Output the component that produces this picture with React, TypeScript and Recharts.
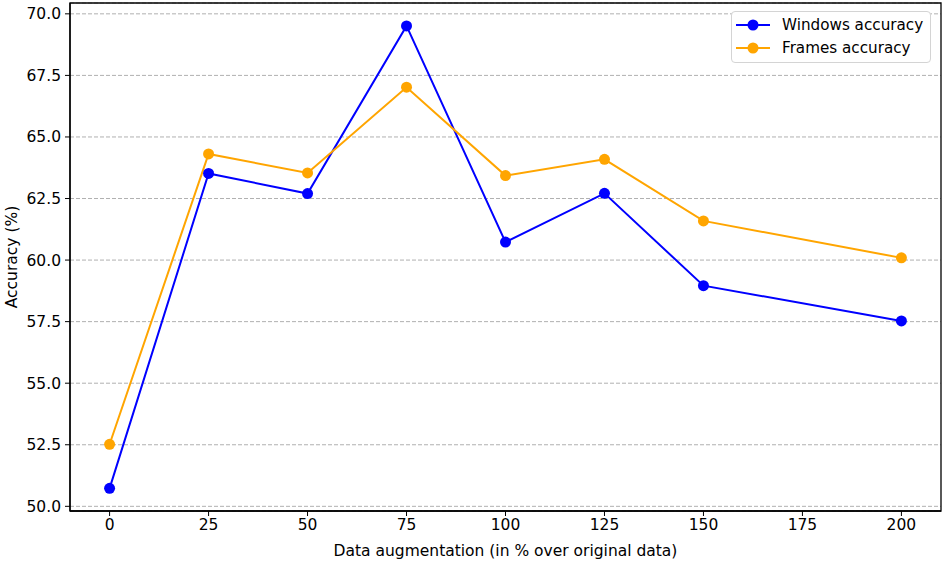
import React from "react";
import {
  LineChart,
  Line,
  XAxis,
  YAxis,
  CartesianGrid,
  Legend,
  ReferenceArea,
  Label,
} from "recharts";

const augmentation = [0, 25, 50, 75, 100, 125, 150, 200];
const windowsAccuracy = [50.73, 63.52, 62.7, 69.51, 60.73, 62.71, 58.96, 57.53];
const framesAccuracy = [52.52, 64.31, 63.54, 67.02, 63.43, 64.09, 61.59, 60.09];

const xTicks = [0, 25, 50, 75, 100, 125, 150, 175, 200];
const yTicks = [50, 52.5, 55, 57.5, 60, 62.5, 65, 67.5, 70];

const X_DOMAIN: [number, number] = [-10, 210];
const Y_DOMAIN: [number, number] = [49.81, 70.44];

const FONT = "'DejaVu Sans', sans-serif";
const AXIS_FONT = 15.5;

const series = [
  { key: "windows", name: "Windows accuracy", color: "#0000ff" },
  { key: "frames", name: "Frames accuracy", color: "#ffa500" },
];

const rows = augmentation.map((x, i) => ({
  x,
  windows: windowsAccuracy[i],
  frames: framesAccuracy[i],
}));

function LegendBox() {
  return (
    <div
      style={{
        border: "1px solid #d4d4d4",
        borderRadius: 4,
        background: "#fff",
        padding: "2px 6px 3px 4px",
        fontFamily: FONT,
        fontSize: 15.2,
        color: "#000",
      }}
    >
      {series.map((s) => (
        <div
          key={s.key}
          style={{ display: "flex", alignItems: "center", height: 22.5 }}
        >
          <svg width={34} height={12} style={{ marginRight: 12 }}>
            <line x1={0} y1={6} x2={34} y2={6} stroke={s.color} strokeWidth={2} />
            <circle cx={17} cy={6} r={5.5} fill={s.color} />
          </svg>
          <span>{s.name}</span>
        </div>
      ))}
    </div>
  );
}

function YLabel(props: any) {
  const vb = props.viewBox || {};
  const cy = vb.y + vb.height / 2;
  return (
    <text
      x={12}
      y={cy}
      transform={`rotate(-90, 12, ${cy})`}
      textAnchor="middle"
      dominantBaseline="central"
      fontFamily={FONT}
      fontSize={AXIS_FONT}
      fill="#000"
    >
      Accuracy (%)
    </text>
  );
}

export default function App() {
  return (
    <div style={{ position: "absolute", left: 0, top: 0, background: "#fff" }}>
      <LineChart
        width={944}
        height={562}
        data={rows}
        margin={{ top: 3, right: 3, left: 0, bottom: 0 }}
      >
        <CartesianGrid
          vertical={false}
          stroke="#b0b0b0"
          strokeDasharray="4 2"
          strokeWidth={1}
        />
        <XAxis
          dataKey="x"
          type="number"
          domain={X_DOMAIN}
          ticks={xTicks}
          height={51}
          tickSize={5}
          tickMargin={3}
          stroke="#000"
          tick={{ fill: "#000", fontSize: AXIS_FONT, fontFamily: FONT }}
          axisLine={{ stroke: "#000", strokeWidth: 1.3 }}
          tickLine={{ stroke: "#000", strokeWidth: 1 }}
        >
          <Label
            value="Data augmentation (in % over original data)"
            position="insideBottom"
            offset={6}
            style={{ fontFamily: FONT, fontSize: AXIS_FONT, fill: "#000" }}
          />
        </XAxis>
        <YAxis
          type="number"
          domain={Y_DOMAIN}
          ticks={yTicks}
          width={70}
          tickSize={5}
          tickMargin={4}
          tickFormatter={(v) => Number(v).toFixed(1)}
          tick={{ fill: "#000", fontSize: AXIS_FONT, fontFamily: FONT }}
          axisLine={{ stroke: "#000", strokeWidth: 1.3 }}
          tickLine={{ stroke: "#000", strokeWidth: 1 }}
        >
          <Label content={<YLabel />} />
        </YAxis>
        <ReferenceArea
          x1={X_DOMAIN[0]}
          x2={X_DOMAIN[1]}
          y1={Y_DOMAIN[0]}
          y2={Y_DOMAIN[1]}
          fill="none"
          stroke="#000"
          strokeWidth={1.3}
          fillOpacity={0}
        />
        {series.map((s) => (
          <Line
            key={s.key}
            dataKey={s.key}
            name={s.name}
            type="linear"
            stroke={s.color}
            strokeWidth={2}
            dot={{ r: 5.5, fill: s.color, stroke: s.color, strokeWidth: 0 }}
            activeDot={false}
            isAnimationActive={false}
          />
        ))}
        <Legend
          layout="vertical"
          align="center"
          verticalAlign="middle"
          content={<LegendBox />}
          wrapperStyle={{ position: "absolute", top: 11, left: 731, width: 200 }}
        />
      </LineChart>
    </div>
  );
}
